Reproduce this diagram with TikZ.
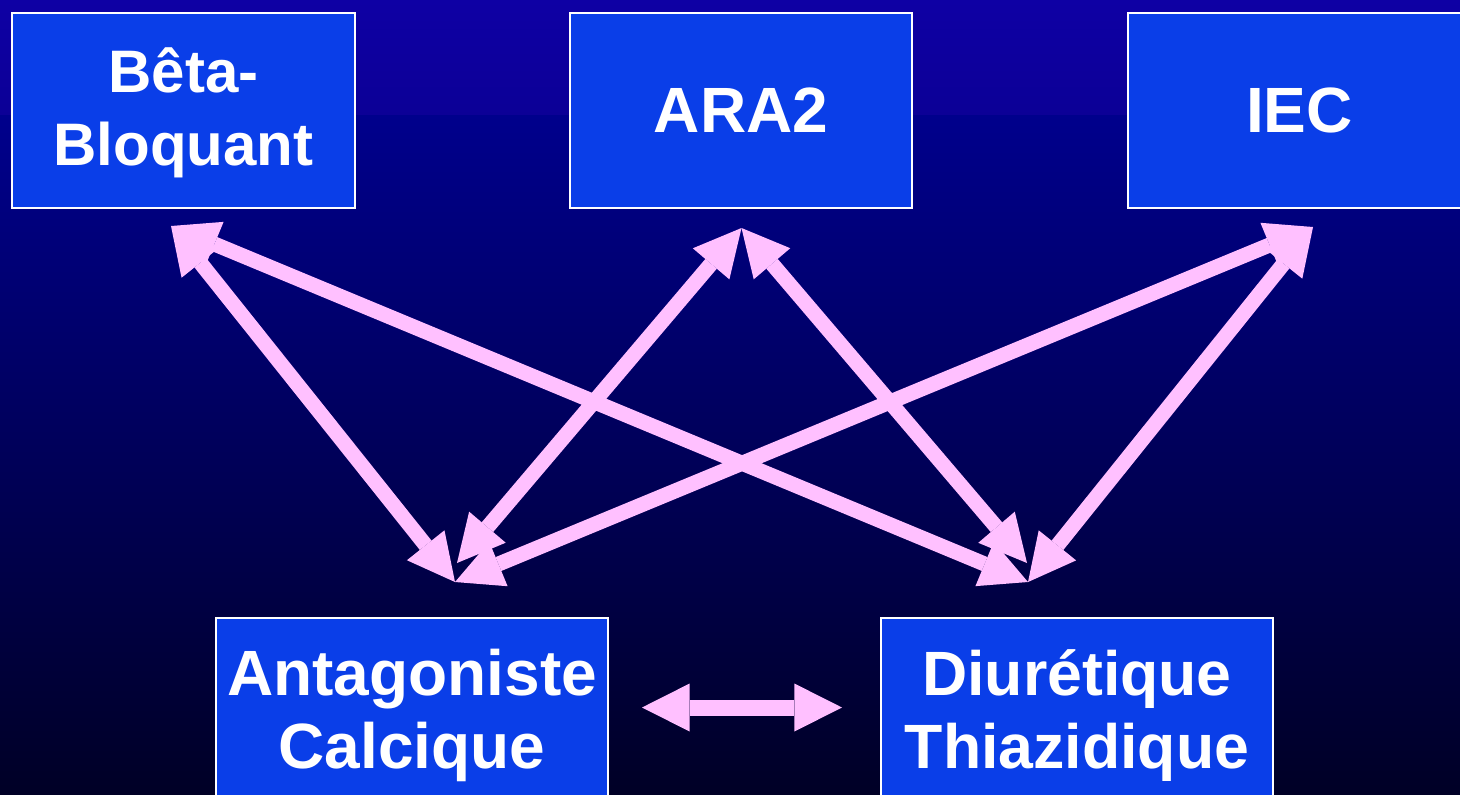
\documentclass[tikz,border=0pt]{standalone}
\usepackage{fontspec}
\setmainfont{Liberation Sans}
\usetikzlibrary{arrows.meta}
\definecolor{bgtopA}{RGB}{14,0,164}
\definecolor{bgtopB}{RGB}{12,0,150}
\definecolor{bgupper}{RGB}{0,0,140}
\definecolor{bgmid}{RGB}{0,0,88}
\definecolor{bgbot}{RGB}{0,0,38}
\definecolor{boxfill}{RGB}{10,62,232}
\definecolor{pinkarr}{RGB}{255,192,255}
\tikzset{
  drug/.style={draw=white, line width=1pt, fill=boxfill, text=white,
    font=\bfseries\fontsize{32}{36.5}\selectfont, align=center,
    inner sep=0pt, outer sep=0pt},
  drugtext/.style={text=white, font=\bfseries\fontsize{30}{36.5}\selectfont,
    align=center, inner sep=0pt},
  link/.style={draw=pinkarr, line width=7.5pt,
    {Triangle[length=23.5pt,width=24pt,line width=0pt]}-{Triangle[length=23.5pt,width=24pt,line width=0pt]}},
  hlink/.style={draw=pinkarr, line width=8pt,
    {Triangle[length=23.8pt,width=24pt,line width=0pt]}-{Triangle[length=23.8pt,width=24pt,line width=0pt]}}
}
\begin{document}
\begin{tikzpicture}[x=0.5pt,y=-0.5pt]
\useasboundingbox (0,0) rectangle (1460,794);
\clip (0,0) rectangle (1460,794);
\shade[top color=bgtopA, bottom color=bgtopB] (0,0) rectangle (1460,116);
\shade[top color=bgupper, middle color=bgmid, bottom color=bgbot] (0,115.5) rectangle (1460,794);
% boxes
\node[drug, minimum width=171.5pt, minimum height=97.5pt] (bb) at (183.5,110.5) {};
\node[drugtext] (bbt) at (183.5,112.5) {Bêta-\\Bloquant};
\node[drug, minimum width=171pt, minimum height=97.5pt] (ara) at (741,110.5) {ARA2};
\node[drug, minimum width=171.5pt, minimum height=97.5pt, text width=171.5pt] (iec) at (1299.5,110.5) {IEC};
\node[drug, minimum width=196pt, minimum height=97.5pt] (ant) at (412,715.5) {Antagoniste\\Calcique};
\node[drug, minimum width=196pt, minimum height=97.5pt,
  font=\bfseries\fontsize{31.3}{36.5}\selectfont] (diu) at (1077,715.5) {Diurétique\\Thiazidique};
% arrow tip points
\coordinate (bbT) at (171,226);
\coordinate (araT) at (741.5,228);
\coordinate (iecT) at (1313,227);
\coordinate (antA) at (455,582);
\coordinate (antB) at (457,563);
\coordinate (diuA) at (1028,582);
\coordinate (diuB) at (1027,563);
\coordinate (hL) at (642,707.5);
\coordinate (hR) at (842,707.5);
% connectors
\draw[link] (bbT) -- (antA);
\draw[link] (bbT) -- (diuA);
\draw[link] (araT) -- (antB);
\draw[link] (araT) -- (diuB);
\draw[link] (iecT) -- (antA);
\draw[link] (iecT) -- (diuA);
\draw[hlink] (hL) -- (hR);
\end{tikzpicture}
\end{document}
